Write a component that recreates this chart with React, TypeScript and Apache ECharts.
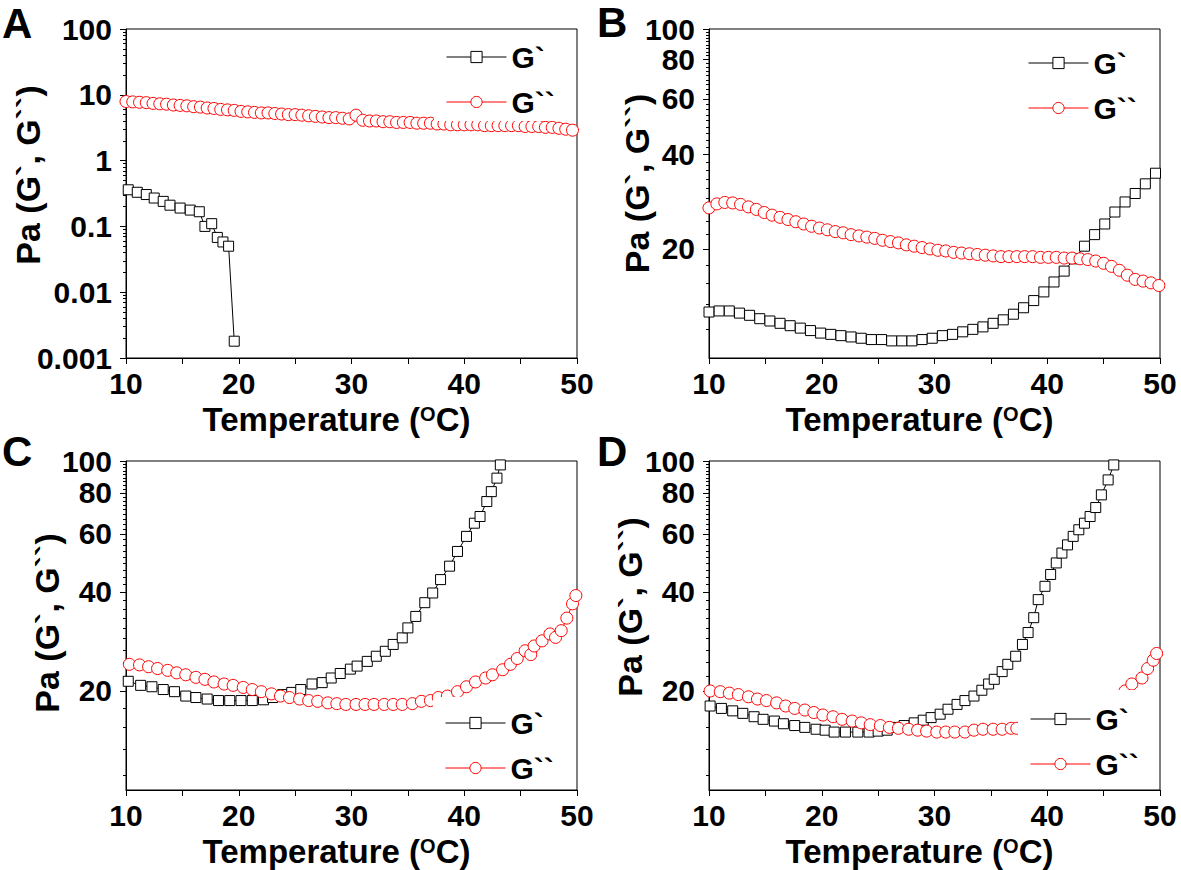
import { useEffect, useRef } from 'react';
import * as echarts from 'echarts';

const FONT = '"Liberation Sans", Arial, Helvetica, sans-serif';
const W = 1181;
const H = 870;

// ---------- Panel A ----------
const aGpT = [10.2, 11.0, 11.8, 12.5, 13.3, 13.9, 14.8, 15.7, 16.5, 17.0, 17.6, 18.1, 18.6, 19.1, 19.6];
const aGpV = [0.36, 0.33, 0.305, 0.27, 0.24, 0.21, 0.19, 0.177, 0.167, 0.10, 0.11, 0.068, 0.058, 0.05, 0.0018];
const aGppT = [10.0, 10.6, 11.2, 11.8, 12.4, 13.0, 13.6, 14.2, 14.8, 15.4, 16.0, 16.6, 17.2, 17.8, 18.4, 19.0, 19.6, 20.2, 20.8, 21.4, 22.0, 22.6, 23.2, 23.8, 24.4, 25.0, 25.6, 26.2, 26.8, 27.4, 28.0, 28.6, 29.2, 29.8, 30.4, 31.0, 31.6, 32.2, 32.8, 33.4, 34.0, 34.6, 35.2, 35.8, 36.4, 37.0, 37.6, 38.2, 38.8, 39.4, 40.0, 40.6, 41.2, 41.8, 42.4, 43.0, 43.6, 44.2, 44.8, 45.4, 46.0, 46.6, 47.2, 47.8, 48.4, 49.0, 49.6];
const aGppV = [7.9, 7.8, 7.7, 7.6, 7.4, 7.3, 7.2, 7.0, 6.9, 6.8, 6.6, 6.5, 6.3, 6.2, 6.0, 5.9, 5.8, 5.6, 5.5, 5.4, 5.3, 5.3, 5.2, 5.1, 5.0, 5.0, 4.9, 4.8, 4.7, 4.6, 4.5, 4.5, 4.4, 4.3, 4.9, 4.1, 4.0, 4.0, 3.9, 3.9, 3.8, 3.8, 3.8, 3.7, 3.7, 3.7, 3.6, 3.6, 3.5, 3.5, 3.5, 3.5, 3.5, 3.4, 3.4, 3.4, 3.4, 3.4, 3.4, 3.3, 3.3, 3.3, 3.2, 3.2, 3.1, 3.0, 2.9];

// ---------- Panel B ----------
const bGpT = [10.0, 10.9, 11.8, 12.7, 13.6, 14.5, 15.4, 16.3, 17.2, 18.1, 19.0, 19.9, 20.8, 21.7, 22.6, 23.5, 24.4, 25.3, 26.2, 27.1, 28.0, 28.9, 29.8, 30.7, 31.6, 32.5, 33.4, 34.3, 35.2, 36.1, 37.0, 37.9, 38.8, 39.7, 40.6, 41.5, 42.4, 43.3, 44.2, 45.1, 46.0, 46.9, 47.8, 48.7, 49.6];
const bGpV = [12.6, 12.7, 12.7, 12.5, 12.3, 12.0, 11.8, 11.6, 11.4, 11.2, 11.0, 10.8, 10.7, 10.6, 10.5, 10.4, 10.3, 10.3, 10.2, 10.2, 10.2, 10.3, 10.4, 10.6, 10.7, 10.9, 11.1, 11.3, 11.6, 11.9, 12.4, 13.0, 13.7, 14.6, 15.7, 17.0, 18.6, 20.4, 22.2, 24.0, 26.2, 28.2, 30.0, 32.2, 34.8];
const bGppT = [10.0, 10.7, 11.4, 12.1, 12.8, 13.5, 14.2, 14.9, 15.6, 16.3, 17.0, 17.7, 18.4, 19.1, 19.8, 20.5, 21.2, 21.9, 22.6, 23.3, 24.0, 24.7, 25.4, 26.1, 26.8, 27.5, 28.2, 28.9, 29.6, 30.3, 31.0, 31.7, 32.4, 33.1, 33.8, 34.5, 35.2, 35.9, 36.6, 37.3, 38.0, 38.7, 39.4, 40.1, 40.8, 41.5, 42.2, 42.9, 43.6, 44.3, 45.0, 45.7, 46.4, 47.1, 47.8, 48.5, 49.2, 49.9];
const bGppV = [27.0, 27.8, 28.1, 28.0, 27.7, 27.2, 26.7, 26.1, 25.6, 25.2, 24.8, 24.4, 24.0, 23.6, 23.3, 23.0, 22.7, 22.5, 22.2, 22.0, 21.8, 21.6, 21.3, 21.1, 20.9, 20.6, 20.4, 20.2, 20.0, 19.8, 19.7, 19.5, 19.4, 19.3, 19.2, 19.1, 19.0, 18.9, 18.9, 18.9, 18.9, 18.9, 18.8, 18.8, 18.8, 18.7, 18.7, 18.6, 18.5, 18.3, 18.0, 17.6, 17.1, 16.5, 16.0, 15.8, 15.6, 15.3];

// ---------- Panel C ----------
const cGpT = [10.2, 11.3, 12.3, 13.3, 14.3, 15.3, 16.2, 17.2, 18.2, 19.2, 20.2, 21.2, 22.2, 23.0, 23.9, 24.7, 25.5, 26.5, 27.4, 28.2, 29.0, 29.9, 30.5, 31.4, 32.2, 33.0, 33.7, 34.5, 35.0, 35.7, 36.5, 37.2, 37.9, 38.7, 39.4, 40.2, 40.9, 41.4, 42.0, 42.4, 42.9, 43.2];
const cGpV = [21.4, 20.8, 20.6, 20.2, 19.9, 19.3, 19.1, 18.9, 18.7, 18.7, 18.7, 18.7, 18.8, 19.1, 19.5, 19.8, 20.2, 21.0, 21.2, 21.9, 22.6, 23.3, 23.8, 24.6, 25.5, 26.4, 27.7, 29.0, 31.1, 33.7, 37.1, 39.7, 43.6, 47.9, 53.1, 59.0, 64.7, 67.8, 75.3, 80.7, 88.7, 97.3];
const cGppT = [10.3, 11.2, 12.0, 12.8, 13.7, 14.5, 15.3, 16.2, 17.0, 17.8, 18.7, 19.5, 20.4, 21.2, 22.0, 22.9, 23.7, 24.5, 25.4, 26.2, 27.0, 27.9, 28.7, 29.5, 30.4, 31.2, 32.0, 32.9, 33.7, 34.5, 35.4, 36.2, 37.0, 37.7, 38.5, 39.4, 40.2, 41.0, 41.9, 42.5, 43.4, 44.1, 44.7, 45.4, 45.9, 46.2, 46.9, 47.6, 48.1, 48.6, 49.1, 49.6, 49.9];
const cGppV = [24.1, 24.0, 23.7, 23.4, 23.1, 22.7, 22.4, 22.0, 21.7, 21.3, 21.0, 20.8, 20.5, 20.2, 19.9, 19.6, 19.3, 19.1, 18.9, 18.7, 18.6, 18.4, 18.3, 18.2, 18.2, 18.2, 18.2, 18.2, 18.2, 18.2, 18.3, 18.6, 18.7, 19.1, 19.3, 19.9, 20.6, 21.3, 21.9, 22.4, 23.2, 24.1, 25.1, 26.5, 25.8, 27.4, 28.4, 29.8, 29.1, 30.5, 33.3, 36.8, 39.0];

// ---------- Panel D ----------
const dGpT = [10.1, 11.1, 12.1, 13.0, 14.0, 14.8, 15.8, 16.6, 17.6, 18.5, 19.5, 20.3, 21.1, 22.1, 23.2, 24.2, 25.0, 25.8, 26.7, 27.3, 28.2, 29.0, 29.7, 30.5, 31.2, 32.0, 32.7, 33.5, 34.2, 34.8, 35.3, 36.0, 36.5, 37.2, 37.8, 38.3, 38.8, 39.2, 39.8, 40.3, 40.8, 41.3, 41.8, 42.3, 42.8, 43.3, 43.8, 44.3, 44.8, 45.4, 45.9];
const dGpV = [18.0, 17.7, 17.4, 17.1, 16.7, 16.4, 16.2, 15.9, 15.7, 15.5, 15.3, 15.2, 15.0, 15.0, 15.0, 15.0, 15.1, 15.2, 15.5, 15.7, 16.0, 16.3, 16.6, 17.0, 17.6, 18.2, 18.7, 19.3, 20.1, 21.0, 21.7, 22.9, 24.1, 25.5, 27.7, 30.1, 33.4, 37.9, 41.6, 45.2, 49.0, 52.5, 55.6, 59.0, 61.8, 64.7, 67.8, 72.2, 78.9, 87.6, 97.3];
const dGppT = [10.1, 11.0, 11.8, 12.6, 13.5, 14.3, 15.1, 16.0, 16.8, 17.6, 18.5, 19.3, 20.1, 21.0, 21.8, 22.7, 23.5, 24.3, 25.2, 26.0, 26.8, 27.7, 28.5, 29.3, 30.2, 31.0, 31.8, 32.7, 33.5, 34.3, 35.2, 36.0, 36.8, 37.3, 38.1, 38.9, 39.8, 40.6, 41.4, 42.3, 43.1, 43.9, 44.8, 45.6, 46.4, 46.9, 47.5, 48.4, 48.9, 49.4, 49.7];
const dGppV = [20.0, 19.9, 19.7, 19.5, 19.2, 18.9, 18.7, 18.4, 18.0, 17.7, 17.5, 17.2, 16.9, 16.7, 16.4, 16.2, 16.0, 15.8, 15.7, 15.5, 15.4, 15.3, 15.2, 15.1, 15.0, 15.0, 15.0, 15.0, 15.2, 15.3, 15.3, 15.3, 15.4, 15.4, 15.5, 15.6, 15.8, 16.0, 16.3, 16.6, 16.9, 17.3, 17.8, 18.3, 18.8, 20.0, 21.0, 21.9, 23.4, 24.8, 26.0];

// ---------- Axes / labels ----------
const aMajorTicks = [0.001, 0.01, 0.1, 1, 10, 100];
const linMajorTicks = [20, 40, 60, 80, 100];
const xTicks = [10, 20, 30, 40, 50];
const seriesNames = ['G`', 'G``'];
const panelLetters = ['A', 'B', 'C', 'D'];
const yTitle = 'Pa (G`, G``)';
const xTitle = 'Temperature ({sup|O}C)';

function logMinor(majors: number[]) {
  const out: number[] = [];
  for (let i = 0; i < majors.length - 1; i++) {
    for (let k = 2; k <= 9; k++) out.push(majors[i] * k);
  }
  return out;
}
function linMinor(majors: number[], min: number) {
  const out: number[] = [];
  const step = 20 / 9;
  majors.forEach((m) => {
    for (let j = 1; j <= 8; j++) {
      const v = m - j * step;
      if (v > min) out.push(v);
    }
  });
  return out;
}
const fmt = (v: number) => String(Number(Math.pow(10, v).toPrecision(3)));

const panels = [
  { left: 126, top: 29, yMin: 0.001, majors: aMajorTicks, minors: logMinor(aMajorTicks), gp: [aGpT, aGpV], gpp: [aGppT, aGppV], nameGap: 81, nameShift: 37, legendLeft: 434, legendTop: 34, legendPadTop: 8, letterX: 2, letterY: 23 },
  { left: 709, top: 29, yMin: 9, majors: linMajorTicks, minors: linMinor(linMajorTicks, 9), gp: [bGpT, bGpV], gpp: [bGppT, bGppV], nameGap: 55, nameShift: 20, legendLeft: 1016, legendTop: 40, legendPadTop: 8, letterX: 597, letterY: 22 },
  { left: 126, top: 461, yMin: 10, majors: linMajorTicks, minors: linMinor(linMajorTicks, 10), gp: [cGpT, cGpV], gpp: [cGppT, cGppV], nameGap: 62, nameShift: 5, legendLeft: 433, legendTop: 697, legendPadTop: 11, letterX: 2, letterY: 451 },
  { left: 709, top: 461, yMin: 10, majors: linMajorTicks, minors: linMinor(linMajorTicks, 10), gp: [dGpT, dGpV], gpp: [dGppT, dGppV], nameGap: 62, nameShift: 37, legendLeft: 1018, legendTop: 690, legendPadTop: 14, letterX: 597, letterY: 451 },
];

const zip = (t: number[], v: number[]) => t.map((x, i) => [x, v[i]]);

function buildOption() {
  const grid = panels.map((p) => ({
    left: p.left, top: p.top, width: 451, height: 329,
    show: true, borderColor: '#000', borderWidth: 1, backgroundColor: 'transparent',
    containLabel: false, outerBoundsMode: 'none',
  }));

  const xAxis = panels.map((p, i) => ({
    type: 'value', gridIndex: i, min: xTicks[0], max: xTicks[xTicks.length - 1], interval: 10,
    axisLine: { show: true, onZero: false, lineStyle: { color: '#000', width: 1 } },
    axisTick: { show: true, inside: false, length: 6, lineStyle: { color: '#000' } },
    minorTick: { show: true, splitNumber: 2, length: 6, lineStyle: { color: '#000' } },
    splitLine: { show: false }, minorSplitLine: { show: false },
    axisLabel: { fontSize: 30, fontWeight: 'bold', fontFamily: FONT, color: '#000', margin: 13, lineHeight: 24 },
    name: xTitle, nameLocation: 'middle', nameGap: 46, nameMoveOverlap: false,
    nameTextStyle: {
      fontSize: 33, fontWeight: 'bold', fontFamily: FONT, color: '#000', lineHeight: 30, padding: [0, 30, 0, 0],
      rich: { sup: { fontSize: 20, fontWeight: 'bold', fontFamily: FONT, color: '#000', lineHeight: 16, verticalAlign: 'top' } },
    },
    silent: true,
  }));

  const dataY = panels.map((p, i) => ({
    type: 'log', logBase: 10, gridIndex: i, position: 'left', min: p.yMin, max: 100,
    axisLine: { show: true, onZero: false, lineStyle: { color: '#000', width: 1 } },
    axisTick: { show: false }, axisLabel: { show: false }, splitLine: { show: false }, minorTick: { show: false },
    name: yTitle, nameLocation: 'middle', nameGap: p.nameGap, nameRotate: 90, nameMoveOverlap: false,
    nameTextStyle: { fontSize: 34, fontWeight: 'bold', fontFamily: FONT, color: '#000', lineHeight: 34, padding: [0, 0, 0, p.nameShift] },
    silent: true,
  }));
  const majorY = panels.map((p, i) => ({
    type: 'value', gridIndex: i, position: 'left', min: Math.log10(p.yMin), max: 2,
    axisLine: { show: false, onZero: false },
    axisTick: { show: true, length: 6, customValues: p.majors.map((v) => Math.log10(v)), lineStyle: { color: '#000' } },
    axisLabel: {
      show: true, customValues: p.majors.map((v) => Math.log10(v)), formatter: (v: number) => fmt(v),
      fontSize: 30, fontWeight: 'bold', fontFamily: FONT, color: '#000', margin: 14, lineHeight: 24,
    },
    splitLine: { show: false }, silent: true,
  }));
  const minorY = panels.map((p, i) => ({
    type: 'value', gridIndex: i, position: 'left', min: Math.log10(p.yMin), max: 2,
    axisLine: { show: false, onZero: false },
    axisTick: { show: true, length: 3, customValues: p.minors.map((v) => Math.log10(v)), lineStyle: { color: '#000' } },
    axisLabel: { show: false },
    splitLine: { show: false }, silent: true,
  }));

  const series: any[] = [];
  panels.forEach((p, i) => {
    series.push({
      type: 'line', name: seriesNames[0], xAxisIndex: i, yAxisIndex: i,
      data: zip(p.gp[0], p.gp[1]), symbol: 'rect', symbolSize: 10, showAllSymbol: true,
      itemStyle: { color: '#fff', borderColor: '#000', borderWidth: 1 },
      lineStyle: { color: '#000', width: 1 }, silent: true,
    });
    series.push({
      type: 'line', name: seriesNames[1], xAxisIndex: i, yAxisIndex: i,
      data: zip(p.gpp[0], p.gpp[1]), symbol: 'circle', symbolSize: 12, showAllSymbol: true,
      itemStyle: { color: '#fff', borderColor: '#ff0000', borderWidth: 1 },
      lineStyle: { color: '#ff0000', width: 1 }, silent: true,
    });
  });

  const legend = panels.map((p) => ({
    data: seriesNames, orient: 'vertical', left: p.legendLeft, top: p.legendTop,
    itemWidth: 60, itemHeight: 14, itemGap: 15, padding: [p.legendPadTop, 20, 4, 12],
    backgroundColor: '#fff', selectedMode: false,
    itemStyle: { borderWidth: 1 }, lineStyle: { width: 1 },
    textStyle: { fontSize: 30, fontWeight: 'bold', fontFamily: FONT, color: '#000', lineHeight: 30 },
  }));

  const graphic = panels.map((p, i) => ({
    type: 'text', x: p.letterX, y: p.letterY, silent: true,
    style: { text: panelLetters[i], fontSize: 42, lineHeight: 40, fontWeight: 'bold', fontFamily: FONT, fill: '#000', verticalAlign: 'middle' },
  }));

  return {
    animation: false,
    backgroundColor: '#fff',
    textStyle: { fontFamily: FONT },
    grid, xAxis, yAxis: [...dataY, ...majorY, ...minorY], series, legend, graphic,
  };
}

export default function App() {
  const ref = useRef<HTMLDivElement>(null);
  useEffect(() => {
    if (!ref.current) return;
    const chart = echarts.init(ref.current, null, { renderer: 'svg', width: W, height: H });
    chart.setOption(buildOption() as any);
    return () => chart.dispose();
  }, []);
  return (
    <div
      ref={ref}
      style={{ position: 'fixed', left: 0, top: 0, width: W, height: H, background: '#fff', overflow: 'hidden' }}
    />
  );
}
